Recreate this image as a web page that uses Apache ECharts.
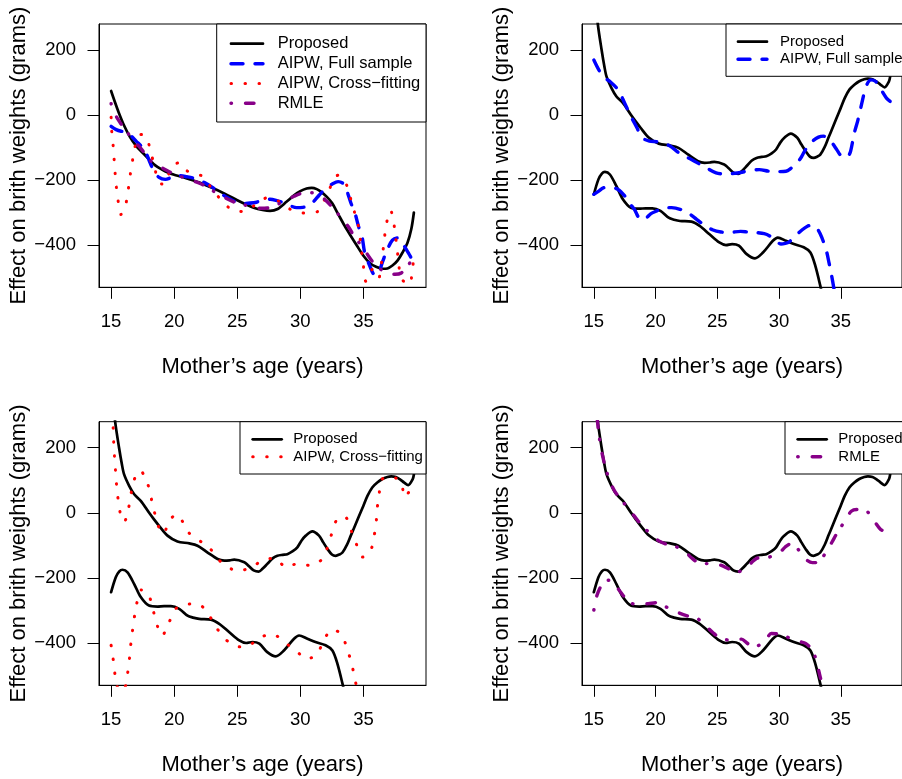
<!DOCTYPE html>
<html><head><meta charset="utf-8">
<script src="https://cdn.jsdelivr.net/npm/echarts@6/dist/echarts.min.js"></script>
<style>html,body{margin:0;padding:0;background:#fff;}#c{width:902px;height:779px;}</style>
</head><body><div id="c"></div>
<script>
// ---------- tick labels ----------
const xTicks = [15, 20, 25, 30, 35];
const yTicks = [-400, -200, 0, 200];

// ---------- Panel 1 (single estimates) ----------
const p1PropX = [15,15.3,15.6,16,16.5,17,17.5,18,18.5,19,19.5,20,20.5,21,22,23,24,25,25.7,26.3,27,27.6,28.2,28.9,29.5,30,30.5,30.9,31.3,31.7,32.1,32.5,33,33.5,34,34.5,35,35.5,36,36.5,36.9,37.3,37.7,38.1,38.5,38.8,39];
const p1PropY = [74,40,8,-30,-68,-96,-116,-136,-155,-167,-177,-184,-189,-195,-208,-224,-242,-262,-275,-285,-292,-295,-289,-267,-247,-234,-226,-224,-228,-238,-252,-270,-305,-340,-372,-403,-433,-455,-467,-473,-472,-463,-448,-423,-392,-350,-300];

const p1FullX = [15,15.4,15.8,16.2,16.6,17,17.4,17.8,18.1,18.4,18.8,19.3,19.8,20.3,21,21.7,22.4,23,23.6,24.2,24.8,25.4,26.3,27,27.6,28.2,28.7,29.2,29.7,30.2,30.6,31,31.5,32,32.5,33,33.4,33.7,34,34.3,34.6,34.9,35.1,35.5,35.8,36.1,36.5,36.9,37.3,37.7,38.1,38.5,38.8,39];
const p1FullY = [-35,-45,-50,-52,-65,-81,-96,-120,-148,-173,-192,-198,-192,-186,-190,-196,-208,-222,-239,-254,-266,-272,-270,-263,-259,-264,-270,-279,-285,-284,-280,-268,-246,-226,-213,-205,-211,-235,-270,-298,-341,-377,-423,-464,-489,-492,-453,-413,-385,-378,-395,-420,-440,-452];

const p1CrossX = [15,15.05,15.16,15.24,15.32,15.42,15.56,15.77,16.16,16.35,16.5,16.67,16.85,17.17,17.5,17.85,18.17,18.41,18.7,19,19.31,19.68,20.1,20.45,20.9,21.27,21.8,22.3,22.9,23.6,24.4,25,25.5,26,26.4,26.9,27.4,27.9,28.4,28.9,29.3,29.8,30.4,30.9,31.4,31.9,32.4,32.8,33,33.3,33.7,34,34.3,34.6,34.8,35,35.2,35.45,35.7,35.95,36.2,36.45,36.67,36.83,37.15,37.4,37.55,37.68,37.8,37.95,38.3,38.7,38.85,39];
const p1CrossY = [-7,-51,-94,-137,-180,-223,-265,-306,-274,-232,-188,-147,-105,-63,-60,-75,-116,-155,-198,-212,-210,-170,-150,-147,-168,-177,-182,-190,-222,-256,-287,-295,-297,-288,-277,-263,-254,-258,-268,-282,-292,-298,-302,-300,-296,-262,-220,-190,-185,-196,-218,-259,-300,-341,-400,-465,-512,-500,-475,-485,-503,-450,-377,-333,-293,-331,-375,-416,-458,-500,-515,-520,-480,-443];

const p1RmleX = [15,15.4,15.8,16.2,16.7,17.3,17.8,18.3,18.9,19.5,20,21,22,22.5,23.3,24.1,24.9,25.6,26.2,26.8,27.4,27.9,28.4,29,29.5,30,30.5,31,31.5,32,32.5,32.9,33.4,33.8,34.3,34.8,35.3,35.7,36,36.5,37,37.5,38,38.5,39];
const p1RmleY = [35,-4,-28,-48,-76,-100,-125,-147,-160,-172,-182,-196,-210,-219,-239,-256,-270,-277,-282,-287,-286,-280,-271,-260,-250,-242,-239,-239,-246,-262,-282,-300,-325,-343,-375,-400,-428,-450,-464,-478,-489,-490,-486,-463,-441];

// ---------- Panels 2-4: proposed band (upper / lower) ----------
const propUpX = [15,15.15,15.32,15.63,15.85,16.03,16.43,16.83,17.35,18,18.4,18.8,19.47,20.26,21.2,21.85,22.65,23.44,23.97,24.4,24.76,25.56,25.9,26.3,26.7,27,27.38,27.8,28.18,28.6,28.97,29.4,29.76,30.1,30.43,30.95,31.48,31.8,32.15,32.5,32.8,33.1,33.34,33.7,34,34.33,34.66,35,35.32,35.7,36.1,36.5,36.9,37.2,37.57,37.9,38.23,38.55,38.9,39];
const propUpY = [450,360,280,200,150,118,83,57,37,1,-20,-40,-70,-88,-94,-101,-122,-142,-147,-146,-144,-152,-163,-177,-181,-172,-157,-140,-132,-129,-127,-118,-106,-85,-70,-57,-70,-90,-111,-128,-132,-128,-122,-98,-70,-40,-9,22,52,78,93,104,110,112,110,103,93,85,103,118];
const propLoX = [15,15.37,15.65,15.9,16.3,16.83,17.35,18,18.68,19.2,19.74,20.4,21.06,21.5,21.98,22.9,23.57,24.37,25.16,25.7,26.2,26.75,27.38,28.05,28.7,29.5,29.9,30.56,31.2,32,32.54,32.94,33.34,33.6];
const propLoY = [-244,-198,-180,-175,-183,-219,-259,-285,-288,-287,-287,-295,-316,-322,-326,-328,-341,-367,-392,-400,-397,-402,-428,-441,-423,-387,-377,-387,-397,-407,-423,-464,-525,-570];

// ---------- Panel 2: AIPW full sample band ----------
const fullUpX = [15,15.4,15.85,16.3,16.96,17.49,18,18.5,18.9,19.5,20.2,21.1,22.1,22.9,24.1,24.9,25.5,26.2,27,27.7,28.4,29.2,30,30.56,31,31.35,31.8,32.15,32.7,33.2,33.6,34,34.3,34.7,35.06,35.4,35.6,35.8,36.1,36.4,36.77,36.96,37.2,37.44,37.83,38.1,38.36,38.7,39];
const fullUpY = [169,139,115,103,78,37,-4,-40,-70,-80,-83,-94,-122,-137,-162,-178,-181,-180,-176,-170,-168,-173,-174,-173,-163,-152,-130,-106,-81,-68,-65,-74,-86,-108,-127,-130,-127,-111,-55,-14,47,77,100,108,103,88,72,52,42];
const fullLoX = [15,15.4,15.77,16.3,16.96,17.5,17.9,18.28,18.8,19.2,19.6,20.1,20.66,21.3,21.98,22.78,23.3,23.84,24.6,25.3,25.95,26.88,27.5,28.2,28.8,29.24,29.7,30.16,30.5,30.82,31.3,31.88,32.3,32.67,33.1,33.47,33.87,34.05,34.26,34.45];
const fullLoY = [-244,-234,-224,-222,-229,-249,-272,-290,-321,-318,-304,-295,-285,-285,-290,-305,-320,-336,-353,-360,-361,-358,-360,-362,-365,-372,-385,-397,-395,-390,-373,-353,-342,-339,-350,-377,-423,-455,-494,-535];

// ---------- Panel 3: AIPW cross-fitting band ----------
const crossUpX = [15,15.16,15.2,15.26,15.34,15.42,15.53,15.69,15.85,16.06,16.25,16.38,16.56,16.8,17.05,17.35,17.6,17.88,18.15,18.39,18.68,18.9,19.15,19.35,19.6,19.95,20.34,20.6,20.87,21.2,21.61,22.1,22.54,22.9,23.23,23.6,24,24.5,25,25.5,26.08,26.5,27.02,27.5,28.02,28.45,28.87,29.4,29.87,30.4,30.93,31.4,31.78,32,32.2,32.52,32.91,33.3,33.66,34.05,34.45,34.75,34.95,35.3,35.61,35.85,36.01,36.09,36.25,36.35,36.7,37.2,37.6,38.02,38.26,38.5,38.79,39];
const crossUpY = [390,262,220,177,134,91,49,6,-18,-28,-5,13,55,97,122,130,115,92,50,9,-33,-55,-64,-50,-26,-10,-7,-22,-46,-63,-77,-88,-96,-112,-130,-147,-160,-172,-179,-176,-168,-158,-146,-140,-140,-155,-168,-160,-156,-160,-162,-153,-140,-122,-101,-60,-19,-12,-16,-56,-97,-125,-136,-127,-113,-71,-30,14,56,99,108,112,106,90,48,58,76,85];
const crossLoX = [15,15.16,15.29,15.45,15.65,15.9,16.1,16.2,16.32,16.46,16.56,16.7,16.85,17.04,17.38,17.7,18.04,18.33,18.62,18.85,19.07,19.3,19.58,20,20.4,20.87,21.4,21.98,22.35,22.72,23.28,23.94,24.4,24.81,25.3,25.85,26.3,26.75,27.3,27.81,28.2,28.68,29.1,29.61,30,30.4,30.9,31.27,31.55,31.8,32.1,32.39,32.8,33.23,33.66,33.97,34.24,34.45];
const crossLoY = [-407,-449,-492,-528,-548,-548,-535,-526,-490,-446,-404,-361,-319,-277,-237,-240,-258,-299,-341,-368,-378,-362,-339,-299,-288,-282,-280,-281,-293,-311,-349,-383,-400,-409,-412,-410,-398,-384,-376,-373,-380,-393,-408,-422,-436,-449,-445,-436,-418,-398,-375,-360,-362,-371,-411,-451,-493,-535];

// ---------- Panel 4: RMLE band ----------
const rmleUpX = [15,15.15,15.37,15.63,15.95,16.3,16.7,17.35,17.8,18.28,18.8,19.34,19.9,20.4,20.93,21.5,22,22.5,22.9,23.44,24,24.63,25.2,25.69,26.35,26.6,27,27.38,27.8,28.18,28.6,28.97,29.5,30.03,30.5,30.96,31.2,31.48,31.9,32.28,32.7,33.2,33.6,33.9,34.26,34.7,35.06,35.5,35.85,36.3,36.9,37.2,37.44,37.8,38.23,38.6,38.9,39];
const rmleUpY = [440,350,252,189,138,97,66,34,12,-10,-35,-56,-76,-89,-97,-102,-110,-123,-138,-153,-156,-156,-160,-168,-181,-183,-176,-168,-152,-140,-138,-138,-132,-123,-105,-95,-98,-109,-130,-146,-153,-153,-133,-115,-92,-62,-41,-15,5,10,10,2,-10,-30,-51,-58,-61,-56];
const rmleLoX = [15,15.24,15.58,16,16.38,16.7,17.1,17.75,18.2,18.68,19.4,20.13,20.5,21,21.6,22.5,23.3,23.7,24.2,24.7,25.16,25.95,26.5,26.96,27.4,27.9,28.57,29,29.37,29.9,30.43,31.22,31.7,32.15,32.6,32.94,33.34,33.47,33.6];
const rmleLoY = [-299,-255,-225,-208,-207,-220,-240,-271,-280,-281,-279,-276,-283,-292,-303,-316,-322,-335,-352,-370,-383,-391,-390,-388,-400,-413,-403,-386,-371,-372,-378,-391,-396,-401,-418,-444,-505,-526,-550];

// ---------- styling ----------
const FONT = '"Liberation Sans", Arial, Helvetica, sans-serif';
const C = {black:'#000000', blue:'#0000FF', red:'#FF0000', purple:'#880088'};
const STY = {
  prop:  {color:C.black, width:2.7, type:'solid', cap:'round'},
  full:  {color:C.blue, width:3.4, type:[12,12], cap:'round'},
  cross: {color:C.red, width:3, type:[0.5,13.5], cap:'round'},
  rmle:  {color:C.purple, width:3.4, type:[0.5,14,8.5,12], cap:'round'}
};
const zip = (xs, ys) => xs.map((x, i) => [x, ys[i]]);

const gridDefs = [
  {left:99,  top:24,    width:327,   height:263.3},
  {left:582, top:24,    width:326.5, height:263.3},
  {left:99,  top:421.7, width:327,   height:263.6},
  {left:582, top:421.7, width:326.5, height:263.6}
];
const grids = gridDefs.map(g => Object.assign({show:true, borderColor:'#000', borderWidth:1, backgroundColor:'transparent', containLabel:false}, g));

const xAxes = gridDefs.map((g, i) => ({
  type:'value', gridIndex:i, min:14.04, max:39.96,
  axisLine:{show:true, onZero:false, lineStyle:{color:'#000', width:1}},
  axisTick:{show:true, length:11.5, customValues:xTicks, lineStyle:{color:'#000', width:1}},
  axisLabel:{show:true, customValues:xTicks, margin:25, fontSize:18.5, color:'#000', fontFamily:FONT},
  splitLine:{show:false},
  name:'Mother\u2019s age (years)', nameLocation:'middle', nameGap:69,
  nameTextStyle:{fontSize:22, color:'#000', fontFamily:FONT}
}));
const yAxes = gridDefs.map((g, i) => ({
  type:'value', gridIndex:i, min:-530, max:280,
  axisLine:{show:true, onZero:false, lineStyle:{color:'#000', width:1}},
  axisTick:{show:true, length:11.5, customValues:yTicks, lineStyle:{color:'#000', width:1}},
  axisLabel:{show:true, customValues:yTicks, margin:23, fontSize:18.5, color:'#000', fontFamily:FONT,
             formatter: v => String(v).replace('-', '\u2212')},
  splitLine:{show:false},
  name:'Effect on brith weights (grams)', nameLocation:'middle', nameGap:62,
  nameTextStyle:{fontSize:22, color:'#000', fontFamily:FONT}
}));

function ser(name, gi, xs, ys, st) {
  return {
    name, type:'line', xAxisIndex:gi, yAxisIndex:gi, data:zip(xs, ys),
    showSymbol:false, symbol:'none', smooth:0.3, clip:true, animation:false,
    lineStyle:{color:st.color, width:st.width, type:st.type, cap:st.cap, join:'round'},
    itemStyle:{color:st.color}, emphasis:{disabled:true}, silent:true
  };
}
const series = [
  ser('Proposed', 0, p1PropX, p1PropY, STY.prop),
  ser('AIPW, Full sample', 0, p1FullX, p1FullY, STY.full),
  ser('AIPW, Cross\u2212fitting', 0, p1CrossX, p1CrossY, STY.cross),
  ser('RMLE', 0, p1RmleX, p1RmleY, STY.rmle),

  ser('Proposed', 1, propUpX, propUpY, STY.prop),
  ser('Proposed', 1, propLoX, propLoY, STY.prop),
  ser('AIPW, Full sample', 1, fullUpX, fullUpY, STY.full),
  ser('AIPW, Full sample', 1, fullLoX, fullLoY, STY.full),

  ser('Proposed', 2, propUpX, propUpY, STY.prop),
  ser('Proposed', 2, propLoX, propLoY, STY.prop),
  ser('AIPW, Cross\u2212fitting', 2, crossUpX, crossUpY, STY.cross),
  ser('AIPW, Cross\u2212fitting', 2, crossLoX, crossLoY, STY.cross),

  ser('Proposed', 3, propUpX, propUpY, STY.prop),
  ser('Proposed', 3, propLoX, propLoY, STY.prop),
  ser('RMLE', 3, rmleUpX, rmleUpY, STY.rmle),
  ser('RMLE', 3, rmleLoX, rmleLoY, STY.rmle)
];

// ---------- legends (R-style boxed keys) ----------
function legendBox(box, lineX1, lineX2, textX, rows, fontSize) {
  const els = [{type:'rect', z:100, shape:{x:box.x, y:box.y, width:box.w, height:box.h},
    style:{fill:'#fff', stroke:'#000', lineWidth:1}}];
  rows.forEach(r => {
    els.push({type:'line', z:101, shape:{x1:lineX1, y1:r.y, x2:lineX2, y2:r.y},
      style:{stroke:r.st.color, lineWidth:r.st.width, lineDash:Array.isArray(r.st.type) ? r.st.type : null, lineCap:'round'}});
    els.push({type:'text', z:101, style:{text:r.label, x:textX, y:r.y, fill:'#000',
      font:fontSize + 'px ' + FONT, align:'left', verticalAlign:'middle'}});
  });
  return els;
}
const graphics = [].concat(
  legendBox({x:216.7, y:24, w:209.3, h:98}, 231, 263, 277.7, [
    {y:43.7, label:'Proposed', st:STY.prop},
    {y:63.8, label:'AIPW, Full sample', st:STY.full},
    {y:83.6, label:'AIPW, Cross\u2212fitting', st:STY.cross},
    {y:103.3, label:'RMLE', st:STY.rmle}], 16.5),
  legendBox({x:726, y:24, w:240, h:52.3}, 738, 767, 780, [
    {y:41.7, label:'Proposed', st:STY.prop},
    {y:59.3, label:'AIPW, Full sample', st:STY.full}], 15),
  legendBox({x:240, y:421.7, w:186, h:52.3}, 252.7, 281.7, 293.3, [
    {y:439.3, label:'Proposed', st:STY.prop},
    {y:456.7, label:'AIPW, Cross\u2212fitting', st:STY.cross}], 15),
  legendBox({x:785, y:421.7, w:200, h:52.3}, 797.7, 826.7, 838.3, [
    {y:439.3, label:'Proposed', st:STY.prop},
    {y:456.7, label:'RMLE', st:STY.rmle}], 15)
);

const chart = echarts.init(document.getElementById('c'), null, {renderer:'canvas', width:902, height:779});
chart.setOption({
  backgroundColor:'#ffffff',
  animation:false,
  grid:grids, xAxis:xAxes, yAxis:yAxes, series,
  graphic:{elements:graphics}
});
</script></body></html>
